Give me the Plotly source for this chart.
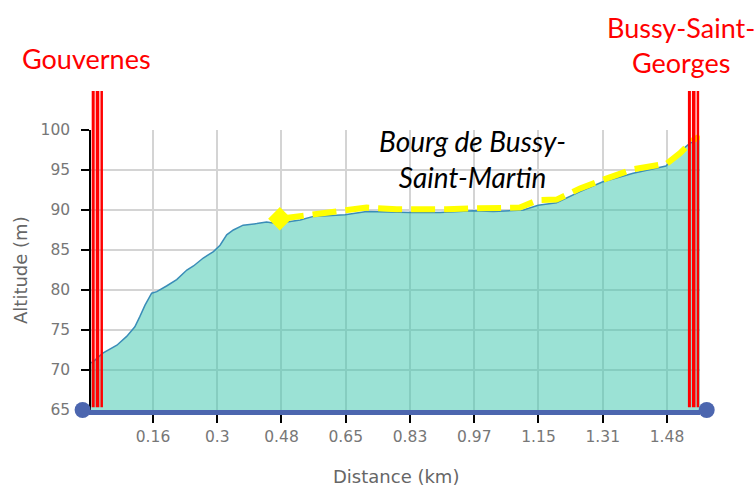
import plotly.graph_objects as go

# ---- data ----
dist_km = [0.006, 0.010, 0.036, 0.072, 0.097, 0.118, 0.131, 0.144, 0.161, 0.174,
           0.199, 0.225, 0.251, 0.268, 0.293, 0.319, 0.336, 0.353, 0.370, 0.395,
           0.430, 0.455, 0.481, 0.507, 0.541, 0.575, 0.656, 0.711, 0.788, 0.822,
           0.899, 0.984, 1.035, 1.112, 1.150, 1.197, 1.257, 1.314, 1.393, 1.477,
           1.513, 1.537, 1.564]
alt_m = [70.9, 71.0, 72.1, 73.1, 74.2, 75.4, 76.7, 78.1, 79.6, 79.8,
         80.5, 81.3, 82.5, 83.0, 84.0, 84.8, 85.6, 86.9, 87.5, 88.1,
         88.3, 88.5, 88.3, 88.5, 88.75, 89.2, 89.4, 89.8, 89.7, 89.7,
         89.7, 89.9, 89.8, 90.0, 90.6, 90.9, 92.3, 93.5, 94.6, 95.5,
         97.3, 98.3, 99.0]

route_km = [0.489, 0.574, 0.656, 0.711, 0.788, 0.873, 0.916, 0.984, 1.044, 1.103,
            1.150, 1.197, 1.223, 1.257, 1.317, 1.393, 1.479, 1.513, 1.547, 1.564]
route_alt = [88.9, 89.4, 89.8, 90.3, 90.1, 90.0, 90.1, 90.2, 90.3, 90.3,
             91.25, 91.3, 91.9, 92.7, 93.8, 95.1, 95.8, 97.1, 98.75, 99.2]

tick_labels = ["0.16", "0.3", "0.48", "0.65", "0.83", "0.97", "1.15", "1.31", "1.48"]
TICK_STEP = 0.1644
tick_vals = [TICK_STEP * (i + 1) for i in range(len(tick_labels))]

x_title = "Distance (km)"
y_title = "Altitude (m)"

waypoint_names = ["Gouvernes", "Bussy-Saint-<br>Georges"]
waypoint_km = [0.0224, 1.548]

village_name = "Bourg de Bussy-<br>Saint-Martin"
village_km = 0.981
village_alt = 96.4

X_RANGE = [0.00576, 1.5641]
Y_RANGE = [65, 100]
KM_PER_PX = 0.002559

BLUE = "#4C66AF"
RED = "#FF0000"
GREY = "#666666"

fig = go.Figure()

# elevation profile
fig.add_trace(go.Scatter(
    x=dist_km, y=alt_m, mode="lines",
    line=dict(color="#3A8DB8", width=1.5),
    fill="tozeroy", fillcolor="rgba(55,197,172,0.5)",
    hoverinfo="skip", showlegend=False))

# village route (yellow dashed)
fig.add_trace(go.Scatter(
    x=route_km, y=route_alt, mode="lines",
    line=dict(color="#FFFF00", width=6, dash="24px,9px"),
    hoverinfo="skip", showlegend=False))
fig.add_trace(go.Scatter(
    x=route_km[:1], y=route_alt[:1], mode="markers",
    marker=dict(symbol="diamond", size=18, color="#FFFF00"),
    cliponaxis=False, hoverinfo="skip", showlegend=False))

shapes = []
offsets = [(-4.3, 3.0), (0.0, 3.6), (4.2, 2.5)]
for wk in waypoint_km:
    for off, w in offsets:
        xk = wk + off * KM_PER_PX
        shapes.append(dict(type="line", xref="x", yref="paper",
                           x0=xk, x1=xk, y0=0.01, y1=1.139,
                           line=dict(color=RED, width=w), layer="above"))

# axis end dots (pixel-sized circles anchored at the plot edges)
for anchor, centre in [(0, -8.4), (1, 6.7)]:
    shapes.append(dict(type="circle", xref="paper", yref="paper",
                       xsizemode="pixel", ysizemode="pixel",
                       xanchor=anchor, yanchor=0,
                       x0=centre - 8, x1=centre + 8, y0=-8, y1=8,
                       fillcolor=BLUE, line=dict(width=0), layer="above"))

annotations = [
    dict(x=waypoint_km[0], y=1.257, xref="x", yref="paper", xshift=-11.5,
         xanchor="center", yanchor="middle",
         text=waypoint_names[0], showarrow=False,
         font=dict(family="Lato", size=27, color=RED)),
    dict(x=waypoint_km[1], y=1.302, xref="x", yref="paper", xshift=-13,
         xanchor="center", yanchor="middle",
         text=waypoint_names[1], showarrow=False,
         font=dict(family="Lato", size=27, color=RED)),
    dict(x=village_km, y=village_alt, xref="x", yref="y",
         xanchor="center", yanchor="middle",
         text="<i>" + village_name + "</i>", showarrow=False,
         font=dict(family="Lato", size=28, color="black")),
    # axis titles
    dict(x=0.5, y=-0.239, xref="paper", yref="paper",
         xanchor="center", yanchor="middle", text=x_title, showarrow=False,
         font=dict(family="DejaVu Sans", size=18, color=GREY)),
    dict(x=-0.1166, y=0.5, xref="paper", yref="paper", textangle=-90,
         xanchor="center", yanchor="middle", text=y_title, showarrow=False,
         font=dict(family="DejaVu Sans", size=18, color=GREY)),
]

fig.update_layout(
    width=756, height=486,
    margin=dict(l=91, r=56, t=130, b=76, pad=0),
    paper_bgcolor="white", plot_bgcolor="white",
    shapes=shapes, annotations=annotations,
    font=dict(family="DejaVu Sans", color=GREY, size=15),
)
fig.update_xaxes(
    range=X_RANGE, tickvals=tick_vals, ticktext=tick_labels,
    showgrid=True, gridcolor="#D4D4D4", gridwidth=1.5,
    showline=True, linecolor=BLUE, linewidth=5,
    ticks="outside", ticklen=8, tickcolor="black", tickwidth=1.5,
    zeroline=False, layer="above traces", automargin=False,
    tickfont=dict(size=15.5, color="#777777"),
)
fig.update_yaxes(
    range=Y_RANGE, dtick=5, tick0=65,
    showgrid=True, gridcolor="#D4D4D4", gridwidth=1.5,
    showline=True, linecolor="black", linewidth=1.5,
    ticks="outside", ticklen=8, tickcolor="black", tickwidth=1.5,
    zeroline=False, layer="above traces", ticklabelstandoff=8, automargin=False,
    tickfont=dict(size=15.5, color="#777777"),
)

fig.write_html("out.html", config={"displayModeBar": False},
               post_script="document.body.style.margin='0px';")
